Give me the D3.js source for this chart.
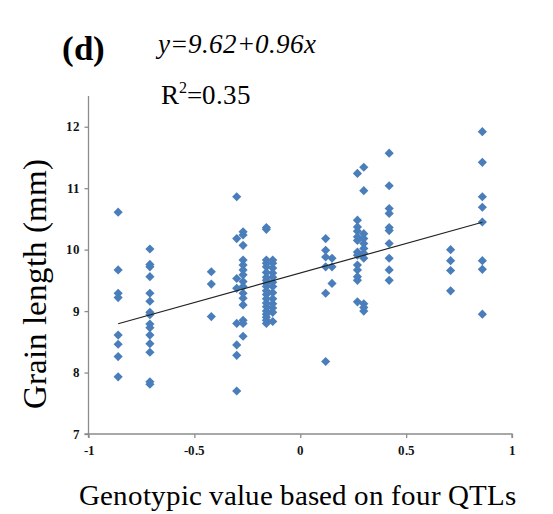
<html>
	<head>
		<title>Grain length vs genotypic value</title>
		<script src="https://cdn.jsdelivr.net/npm/d3@7"></script>
		<style>
		@font-face { font-family: "ChartSerif"; src: local("Liberation Serif"), local("LiberationSerif"); font-weight: normal; font-style: normal; }
		@font-face { font-family: "ChartSerif"; src: local("Liberation Serif Bold"), local("LiberationSerif-Bold"); font-weight: bold; font-style: normal; }
		@font-face { font-family: "ChartSerif"; src: local("Liberation Serif Italic"), local("LiberationSerif-Italic"); font-weight: normal; font-style: italic; }
		</style>
	</head>
	<body style="margin:0">
		<script>

			// genotypic value columns and grain lengths (mm)
			var xNeg086 = [10.61, 9.67, 9.29, 9.22, 8.61, 8.46, 8.26, 7.93];
			var xNeg071 = [10.01, 9.76, 9.72, 9.56, 9.29, 9.16, 8.98, 8.94, 8.79, 8.73, 8.61, 8.47, 8.33, 7.85, 7.81];
			var xNeg042 = [9.64, 9.44, 8.91];
			var xNeg030 = [10.86, 10.18, 9.53, 9.37, 8.80, 8.45, 8.28, 7.70];
			var xNeg027 = [10.29, 10.24, 10.07, 9.83, 9.75, 9.67, 9.59, 9.48, 9.40, 9.29, 9.21, 9.10, 8.85, 8.80, 8.59];
			var xNeg016 = [10.36, 10.33, 9.83, 9.78, 9.72, 9.63, 9.55, 9.50, 9.45, 9.40, 9.33, 9.27, 9.20, 9.13, 9.07, 9.00, 8.95, 8.90, 8.85, 8.80];
			var xNeg013 = [9.83, 9.78, 9.70, 9.62, 9.55, 9.47, 9.40, 9.30, 9.20, 9.12, 9.05, 8.98, 8.83];
			var xPos012 = [10.18, 9.99, 9.88, 9.72, 9.29, 8.18];
			var xPos015 = [9.86, 9.72, 9.45];
			var xPos027 = [11.24, 10.48, 10.37, 10.30, 10.21, 10.15, 9.96, 9.91, 9.75, 9.67, 9.56, 9.50, 9.15];
			var xPos030 = [11.34, 10.96, 10.26, 10.18, 10.10, 10.02, 9.94, 9.86, 9.12, 9.06, 9.00];
			var xPos042 = [11.57, 11.04, 10.67, 10.59, 10.36, 10.31, 10.10, 9.86, 9.67, 9.50];
			var xPos071 = [10.00, 9.82, 9.66, 9.33];
			var xPos086 = [11.92, 11.42, 10.86, 10.69, 10.45, 9.82, 9.68, 8.95];

			var columns = [
				[-0.86, xNeg086], [-0.71, xNeg071], [-0.42, xNeg042], [-0.30, xNeg030],
				[-0.27, xNeg027], [-0.16, xNeg016], [-0.13, xNeg013], [0.12, xPos012],
				[0.15, xPos015], [0.27, xPos027], [0.30, xPos030], [0.42, xPos042],
				[0.71, xPos071], [0.86, xPos086]
			];

			var xTicks = [-1, -0.5, 0, 0.5, 1];
			var yTicks = [7, 8, 9, 10, 11, 12];

			// fitted line y = 9.62 + 0.96x
			var intercept = 9.62;
			var slope = 0.96;
			var fitRange = [-0.86, 0.86];

			var serif = "ChartSerif, 'Liberation Serif', 'Times New Roman', serif";

			var points = [];
			columns.forEach(function(c) {
				c[1].forEach(function(v) { points.push({x: c[0], y: v}); });
			});

			var w = 553;
			var h = 514;

			var xScale = d3.scaleLinear().domain([-1, 1]).range([88.5, 512]);
			var yScale = d3.scaleLinear().domain([7, 12.5]).range([434, 96]);

			var svg = d3.select("body")
						.append("svg")
						.attr("width", w)
						.attr("height", h)
						.style("font-family", serif);

			//Axes
			var xAxis = d3.axisBottom(xScale)
							.tickValues(xTicks)
							.tickSize(4)
							.tickFormat(function(d) { return d; });
			var yAxis = d3.axisLeft(yScale)
							.tickValues(yTicks)
							.tickSize(4)
							.tickFormat(d3.format("d"));

			var gx = svg.append("g")
				.attr("transform", "translate(0," + yScale(7) + ")")
				.call(xAxis);
			var gy = svg.append("g")
				.attr("transform", "translate(" + xScale(-1) + ",0)")
				.call(yAxis);

			[gx, gy].forEach(function(g) {
				g.attr("font-family", serif);
				g.selectAll("path, line").attr("stroke", "#8c8c8c").attr("stroke-width", 1.3);
				g.selectAll("text")
					.style("font-family", serif)
					.attr("font-weight", "bold")
					.attr("font-size", "13px")
					.attr("fill", "#111");
			});
			gy.select(".domain").attr("d", "M-4," + yScale(7) + "H0V" + yScale(12.5));
			gx.select(".domain").attr("d", "M" + xScale(-1) + ",4V0H" + xScale(1) + "V4");
			gx.selectAll("text").attr("dy", "1.05em");
			gy.selectAll("text").attr("x", -9);

			//Points
			svg.selectAll("path.pt")
			   .data(points)
			   .enter()
			   .append("path")
			   .attr("class", "pt")
			   .attr("d", d3.symbol().type(d3.symbolSquare).size(42))
			   .attr("transform", function(d) {
			   		return "translate(" + xScale(d.x) + "," + yScale(d.y) + ") rotate(45)";
			   })
			   .attr("fill", "#4a7ebb");

			//Regression line
			svg.append("line")
				.attr("x1", xScale(fitRange[0]))
				.attr("y1", yScale(intercept + slope * fitRange[0]))
				.attr("x2", xScale(fitRange[1]))
				.attr("y2", yScale(intercept + slope * fitRange[1]))
				.attr("stroke", "#222")
				.attr("stroke-width", 1.2);

			//Texts
			function label(x, y, size, txt) {
				return svg.append("text")
					.attr("x", x).attr("y", y)
					.style("font-family", serif)
					.attr("font-size", size)
					.text(txt);
			}

			label(62, 60, "35px", "(d)").attr("font-weight", "bold");
			label(158, 53, "27px", "y=9.62+0.96x").attr("font-style", "italic");

			var r2 = label(161, 104, "27px", null);
			r2.append("tspan").text("R");
			r2.append("tspan").attr("font-size", "16px").attr("dy", -11).text("2");
			r2.append("tspan").attr("dy", 11).text("=0.35");

			label(0, 0, "33px", "Grain length (mm)")
				.attr("transform", "translate(46,284) rotate(-90)")
				.attr("text-anchor", "middle");

			label(297, 505, "29px", "Genotypic value based on four QTLs")
				.attr("text-anchor", "middle");
		</script>
	</body>
</html>
